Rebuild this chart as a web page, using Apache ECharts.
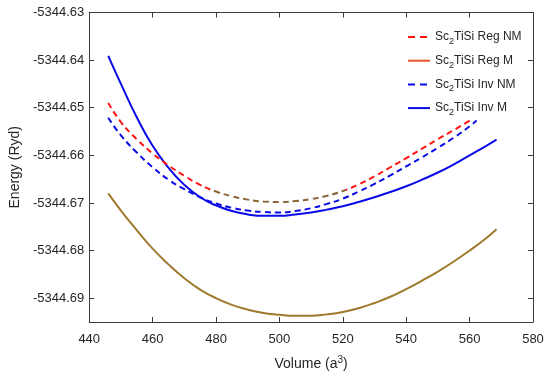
<!DOCTYPE html>
<html>
<head>
<meta charset="utf-8">
<script src="https://cdn.jsdelivr.net/npm/echarts@6/dist/echarts.min.js"></script>
<style>html,body{margin:0;padding:0;background:#fff}#c{width:550px;height:381px}</style>
</head>
<body>
<div id="c"></div>
<script>
// Volume grids (a^3)
var volM = [446,450,455,460,465,470,475,480,485,490,495,500,505,510,515,520,525,530,535,540,545,550,555,560,565,568.5];
var volRegNM = [446,450,455,460,465,470,475,480,485,490,495,500,505,510,515,520,525,530,535,540,545,550,555,560.1];
var volInvNM = [446,450,455,460,465,470,475,480,485,490,495,500,505,510,515,520,525,530,535,540,545,550,555,560,562.2];

// Energies (Ryd)
var regNM = [-5344.6490,-5344.6530,-5344.6566,-5344.6596,-5344.6621,-5344.6643,-5344.6662,-5344.6676,-5344.6686,-5344.6693,-5344.6697,-5344.6698,-5344.6696,-5344.6692,-5344.6685,-5344.6675,-5344.6661,-5344.6644,-5344.6625,-5344.6606,-5344.6586,-5344.6566,-5344.6547,-5344.6527];
var regM = [-5344.6680,-5344.6716,-5344.6757,-5344.6796,-5344.6829,-5344.6858,-5344.6882,-5344.6900,-5344.6914,-5344.6924,-5344.6931,-5344.6935,-5344.6937,-5344.6937,-5344.6934,-5344.6929,-5344.6921,-5344.6910,-5344.6897,-5344.6881,-5344.6863,-5344.6844,-5344.6823,-5344.6800,-5344.6775,-5344.6755];
var invNM = [-5344.6521,-5344.6558,-5344.6594,-5344.6625,-5344.6651,-5344.6671,-5344.6688,-5344.6701,-5344.6710,-5344.6716,-5344.6719,-5344.6720,-5344.6717,-5344.6711,-5344.6702,-5344.6691,-5344.6676,-5344.6660,-5344.6642,-5344.6623,-5344.6604,-5344.6584,-5344.6563,-5344.6539,-5344.6527];
var invM = [-5344.6391,-5344.6450,-5344.6520,-5344.6580,-5344.6626,-5344.6662,-5344.6688,-5344.6705,-5344.6717,-5344.6724,-5344.6727,-5344.6727,-5344.6724,-5344.6720,-5344.6714,-5344.6707,-5344.6698,-5344.6688,-5344.6677,-5344.6665,-5344.6651,-5344.6636,-5344.6619,-5344.6600,-5344.6581,-5344.6567];

var seriesNames = ['Reg NM','Reg M','Inv NM','Inv M'];
var yTicks = [-5344.69,-5344.68,-5344.67,-5344.66,-5344.65,-5344.64,-5344.63];

function zip(xs, ys){ return xs.map(function(x,i){ return [x, ys[i]]; }); }

var FONT = "'Liberation Sans', Arial, sans-serif";
var TXT = '#262626';
var AX = '#3a3a3a';
var RED = '#ff1414', BROWN = '#8a6638', GOLD = '#a07a2c', ORANGE = '#e8562a', BLUE = '#0a0ae6';
var HIDE = {color: 'rgba(0,0,0,0)', borderWidth: 0, opacity: 0};

var chart = echarts.init(document.getElementById('c'), null, {renderer:'canvas'});
var legendRich = {
  a: {fontSize: 12, fontFamily: FONT, color: TXT},
  s: {fontSize: 9, fontFamily: FONT, color: TXT, padding: [9, 0, 0, 0]}
};
chart.setOption({
  animation: false,
  grid: {left: 82, right: 17, top: 12.5, bottom: 59},
  visualMap: {
    show: false, type: 'piecewise', seriesIndex: 0, dimension: 0,
    pieces: [{lt: 478, color: RED}, {gte: 478, lt: 521, color: BROWN}, {gte: 521, color: RED}]
  },
  legend: {
    orient: 'vertical', left: 402, top: 26, itemWidth: 22, itemHeight: 12, itemGap: 8.7,
    formatter: function(n){ return '{a|Sc}{s|2}{a|TiSi ' + n + '}'; },
    textStyle: {rich: legendRich, fontFamily: FONT},
    data: [
      {name: seriesNames[0], itemStyle: HIDE, lineStyle: {color: RED, type: [7,5], width: 2}},
      {name: seriesNames[1], itemStyle: HIDE, lineStyle: {color: ORANGE, type: 'solid', width: 2}},
      {name: seriesNames[2], itemStyle: HIDE, lineStyle: {color: BLUE, type: [7,5], width: 2}},
      {name: seriesNames[3], itemStyle: HIDE, lineStyle: {color: BLUE, type: 'solid', width: 2}}
    ]
  },
  xAxis: [{
    type: 'value', min: 440, max: 580, interval: 20,
    name: '{a|Volume (a}{p|3}{a|)}', nameLocation: 'middle', nameGap: 33,
    nameTextStyle: {rich: {
      a: {fontSize: 14, fontFamily: FONT, color: TXT},
      p: {fontSize: 10, fontFamily: FONT, color: TXT, padding: [0, 0, 8, 0]}
    }},
    axisLine: {show: true, onZero: false, lineStyle: {color: AX, width: 1}},
    axisTick: {show: true, inside: true, length: 5, lineStyle: {color: AX}},
    axisLabel: {fontSize: 13, fontFamily: FONT, color: TXT, margin: 11},
    splitLine: {show: false}
  }, {
    type: 'value', position: 'top', min: 440, max: 580, interval: 20,
    axisLine: {show: true, onZero: false, lineStyle: {color: AX, width: 1}},
    axisTick: {show: true, inside: true, length: 5, lineStyle: {color: AX}},
    axisLabel: {show: false}, splitLine: {show: false}
  }],
  yAxis: [{
    type: 'value', min: -5344.695, max: -5344.63,
    name: 'Energy (Ryd)', nameLocation: 'middle', nameGap: 63,
    nameTextStyle: {fontSize: 14, fontFamily: FONT, color: TXT},
    axisLine: {show: true, onZero: false, lineStyle: {color: AX, width: 1}},
    axisTick: {show: true, inside: true, length: 5, lineStyle: {color: AX}, customValues: yTicks},
    axisLabel: {fontSize: 13, fontFamily: FONT, color: TXT, margin: 5, customValues: yTicks,
      formatter: function(v){ return v.toFixed(2); }},
    splitLine: {show: false}
  }, {
    type: 'value', position: 'right', min: -5344.695, max: -5344.63,
    axisLine: {show: true, onZero: false, lineStyle: {color: AX, width: 1}},
    axisTick: {show: true, inside: true, length: 5, lineStyle: {color: AX}, customValues: yTicks},
    axisLabel: {show: false, customValues: yTicks}, splitLine: {show: false}
  }],
  series: [
    {name: seriesNames[0], type: 'line', smooth: true, showSymbol: false, symbol: 'none',
     data: zip(volRegNM, regNM), lineStyle: {width: 2, type: [6,4]}, z: 4},
    {name: seriesNames[1], type: 'line', smooth: true, showSymbol: false, symbol: 'none',
     data: zip(volM, regM), lineStyle: {color: GOLD, width: 2}, itemStyle: {color: GOLD}, z: 2},
    {name: seriesNames[2], type: 'line', smooth: true, showSymbol: false, symbol: 'none',
     data: zip(volInvNM, invNM), lineStyle: {color: BLUE, width: 2, type: [6,4]}, itemStyle: {color: BLUE}, z: 5},
    {name: seriesNames[3], type: 'line', smooth: true, showSymbol: false, symbol: 'none',
     data: zip(volM, invM), lineStyle: {color: BLUE, width: 2}, itemStyle: {color: BLUE}, z: 3}
  ]
});
</script>
</body>
</html>
